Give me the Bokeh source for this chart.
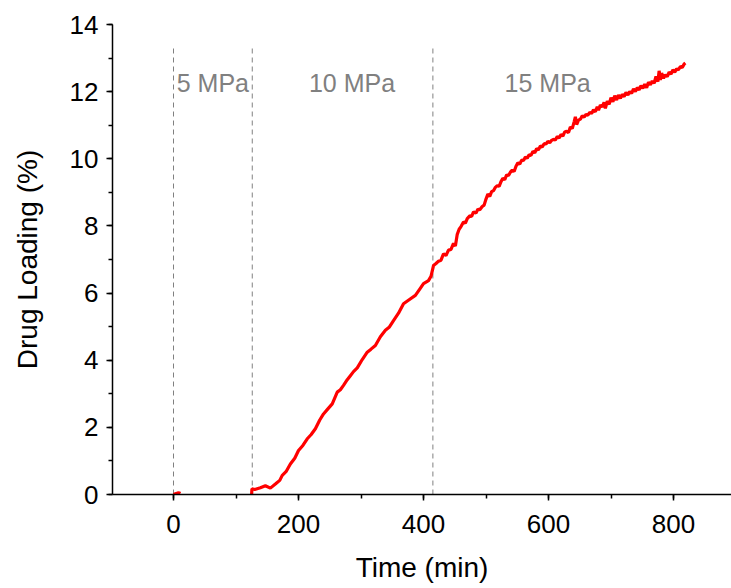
from bokeh.plotting import figure
from bokeh.models import Range1d, SingleIntervalTicker
from bokeh.core.properties import value
from bokeh.embed import file_html
from bokeh.resources import INLINE

# ---- data ----
seg1_x = [0, 3, 6, 9, 11]
seg1_y = [0.0, 0.02, 0.04, 0.05, 0.03]

time_a = [125, 125.5, 130, 139, 147, 155, 163, 170, 174, 180, 187, 194, 200, 207, 214, 220,
          227, 234, 240, 247, 254, 262, 267, 272, 278, 283, 288, 294, 302, 310, 316, 323,
          331, 339, 345, 352, 360, 368, 377, 387, 394, 400, 408, 412, 416]
load_a = [0.0, 0.17, 0.15, 0.20, 0.26, 0.19, 0.31, 0.42, 0.57, 0.68, 0.91, 1.08, 1.31, 1.46, 1.66, 1.78,
          1.96, 2.22, 2.40, 2.55, 2.70, 3.05, 3.12, 3.25, 3.42, 3.54, 3.66, 3.77, 4.02, 4.24, 4.33, 4.44,
          4.70, 4.89, 4.98, 5.18, 5.40, 5.68, 5.80, 5.93, 6.12, 6.28, 6.37, 6.50, 6.82]

time_b = [420, 424, 428, 432, 436, 440, 444, 448, 451, 454, 457, 460, 464, 467, 470, 474, 477, 480,
          484, 487, 490, 494, 497, 500, 503, 506, 509, 512, 515, 518, 521, 524, 527, 530, 533, 536,
          539, 542, 545, 548, 551, 554, 557, 560, 563, 566, 569, 572, 575, 578, 581, 584, 587, 590,
          593, 596, 599, 602, 605, 608, 611, 614, 617, 620, 623, 626, 629, 632, 635, 638, 641, 643,
          645, 648, 651, 654, 657, 660, 663, 666, 669, 672, 675, 678, 680, 683, 686, 689, 691, 694,
          697, 700, 703, 706, 709, 712, 715, 718, 721, 724, 727, 730, 733, 736, 739, 742, 745, 748,
          751, 754, 757, 760, 763, 766, 769, 772, 775, 777, 779, 781, 784, 787, 790, 793, 796, 799,
          802, 805, 808, 811, 814, 817, 819]
load_b = [6.88, 6.95, 6.98, 7.17, 7.12, 7.28, 7.30, 7.48, 7.40, 7.75, 7.90, 7.98, 8.12, 8.08, 8.22, 8.30, 8.28, 8.42,
          8.38, 8.50, 8.48, 8.58, 8.62, 8.80, 8.95, 8.88, 9.02, 9.05, 9.15, 9.20, 9.18, 9.32, 9.42, 9.38, 9.52, 9.50,
          9.60, 9.66, 9.62, 9.78, 9.88, 9.84, 9.96, 9.95, 10.05, 10.02, 10.12, 10.10, 10.22, 10.18, 10.30, 10.27, 10.38, 10.35,
          10.45, 10.44, 10.52, 10.48, 10.55, 10.58, 10.56, 10.66, 10.62, 10.72, 10.68, 10.80, 10.82, 10.78, 10.95, 10.90, 11.10, 11.25,
          11.02, 11.15, 11.18, 11.28, 11.24, 11.32, 11.30, 11.38, 11.35, 11.46, 11.40, 11.55, 11.45, 11.60, 11.55, 11.68, 11.50, 11.72,
          11.62, 11.82, 11.70, 11.88, 11.75, 11.90, 11.80, 11.92, 11.85, 11.98, 11.90, 12.00, 11.95, 12.08, 12.00, 12.12, 12.05, 12.18,
          12.10, 12.22, 12.12, 12.28, 12.20, 12.32, 12.25, 12.45, 12.30, 12.62, 12.35, 12.55, 12.40, 12.50, 12.45, 12.58, 12.52, 12.65,
          12.58, 12.68, 12.65, 12.75, 12.72, 12.82, 12.85]

time_min = time_a + time_b
loading = load_a + load_b

stage_x = [0, 126, 415]
stage_top = 13.3
stage_labels = ["5 MPa", "10 MPa", "15 MPa"]
label_x = [63, 285.6, 598.6]
label_y = [12.26, 12.26, 12.26]

FONT = "Liberation Sans"

p = figure(width=731, height=588, output_backend="svg", toolbar_location=None,
           x_range=Range1d(-97.6, 892.8), y_range=Range1d(0, 14),
           min_border_left=112, min_border_right=0, min_border_top=24, min_border_bottom=94)
p.outline_line_color = None
p.xgrid.visible = False
p.ygrid.visible = False
p.background_fill_color = "white"
p.border_fill_color = "white"

# stage separators
for sx in stage_x:
    p.line([sx, sx], [0, stage_top], line_color="#808080", line_width=1, line_dash="5 4")

p.text(x=label_x, y=label_y, text=stage_labels, text_color="#808080",
       text_font=value(FONT), text_font_size="25px", text_align="center",
       text_baseline="alphabetic")

p.line(seg1_x, seg1_y, line_color="#ff0000", line_width=3.2)
p.line(time_min, loading, line_color="#ff0000", line_width=3.2)

for ax in (p.xaxis[0], p.yaxis[0]):
    ax.axis_line_width = 1.5
    ax.axis_line_color = "black"
    ax.major_tick_line_width = 1.5
    ax.minor_tick_line_width = 1.5
    ax.major_tick_out = 6
    ax.major_tick_in = 0
    ax.minor_tick_out = 4
    ax.minor_tick_in = 0
    ax.major_label_text_font = FONT
    ax.major_label_text_font_size = "26px"
    ax.major_label_text_color = "black"
    ax.axis_label_text_font = FONT
    ax.axis_label_text_font_size = "28px"
    ax.axis_label_text_font_style = "normal"
    ax.axis_label_text_color = "black"
    ax.axis_label_text_line_height = 1.0

p.xaxis.ticker = SingleIntervalTicker(interval=200, num_minor_ticks=2)
p.yaxis.ticker = SingleIntervalTicker(interval=2, num_minor_ticks=2)
p.xaxis.axis_label = "Time (min)"
p.yaxis.axis_label = "Drug Loading (%)"
p.xaxis.major_label_standoff = 14
p.yaxis.major_label_standoff = 8
p.xaxis.axis_label_standoff = 16
p.yaxis.axis_label_standoff = 24

open("out.html", "w").write(file_html(p, INLINE))
